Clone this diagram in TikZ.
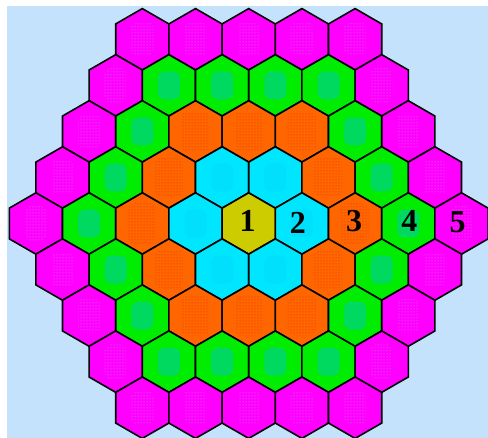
\documentclass[tikz,border=0pt]{standalone}
\usepackage{fontspec}
\setmainfont{Liberation Serif}
\usetikzlibrary{patterns}
\definecolor{bgblue}{RGB}{196,226,252}
\definecolor{ring0}{RGB}{204,204,0}
\definecolor{ring1}{RGB}{0,230,255}
\definecolor{ring2}{RGB}{255,102,0}
\definecolor{ring3}{RGB}{0,236,0}
\definecolor{ring4}{RGB}{255,0,255}
\definecolor{blob1}{RGB}{0,214,245}
\definecolor{blob2}{RGB}{225,40,0}
\definecolor{blob3}{RGB}{0,205,160}
\definecolor{blob4}{RGB}{230,130,250}
\tikzset{
  hexline/.style={draw=black, line width=1.6pt, line join=miter},
  numlabel/.style={font=\fontsize{32}{32}\selectfont\bfseries, text=black, inner sep=0pt},
}
\begin{document}
\begin{tikzpicture}[x=1pt,y=-1pt]
\fill[white] (0,0) rectangle (488,438);
\fill[bgblue] (7,6) rectangle (488,438);
\useasboundingbox (0,0) rectangle (488,438);
\def\W{53.2}
\def\R{30.7}
\def\XO{248.7}
\def\YO{223.5}
\foreach \r in {-4,...,4}{
  \pgfmathtruncatemacro\ar{abs(\r)}
  \pgfmathtruncatemacro\nm{8-\ar}
  \foreach \c in {0,...,\nm}{
    \pgfmathtruncatemacro\h{2*\c-\nm}
    \pgfmathtruncatemacro\d{max(\ar,(abs(\h)+\ar)/2)}
    \pgfmathsetmacro\cx{\XO+\h*\W/2}
    \pgfmathsetmacro\cy{\YO+\r*1.5*\R}
    \fill[ring\d] (\cx,\cy-\R) -- (\cx+\W/2,\cy-\R/2) -- (\cx+\W/2,\cy+\R/2) -- (\cx,\cy+\R) -- (\cx-\W/2,\cy+\R/2) -- (\cx-\W/2,\cy-\R/2) -- cycle;
    \ifnum\d=3
      \fill[blob3, rounded corners=7pt, opacity=0.6] (\cx-11,\cy-14) rectangle (\cx+11,\cy+14);
    \fi
    \ifnum\d=1
      \fill[blob1, rounded corners=7pt, opacity=0.4] (\cx-11,\cy-14) rectangle (\cx+11,\cy+14);
    \fi
    \ifnum\d=2
      \fill[pattern=dots, pattern color=blob2, rounded corners=6pt] (\cx-14,\cy-20) rectangle (\cx+14,\cy+20);
    \fi
    \ifnum\d=4
      \fill[pattern=dots, pattern color=blob4, rounded corners=5pt] (\cx-11,\cy-17) rectangle (\cx+11,\cy+17);
    \fi
    \draw[hexline] (\cx,\cy-\R) -- (\cx+\W/2,\cy-\R/2) -- (\cx+\W/2,\cy+\R/2) -- (\cx,\cy+\R) -- (\cx-\W/2,\cy+\R/2) -- (\cx-\W/2,\cy-\R/2) -- cycle;
  }
}
\node[numlabel] (lab1) at (\XO-1,\YO-3) {1};
\node[numlabel] (lab2) at (\XO+\W-4,\YO-1) {2};
\node[numlabel] (lab3) at (\XO+2*\W-1,\YO-2) {3};
\node[numlabel] (lab4) at (\XO+3*\W+1,\YO-3) {4};
\node[numlabel] (lab5) at (\XO+4*\W-4,\YO-1) {5};
\end{tikzpicture}
\end{document}
